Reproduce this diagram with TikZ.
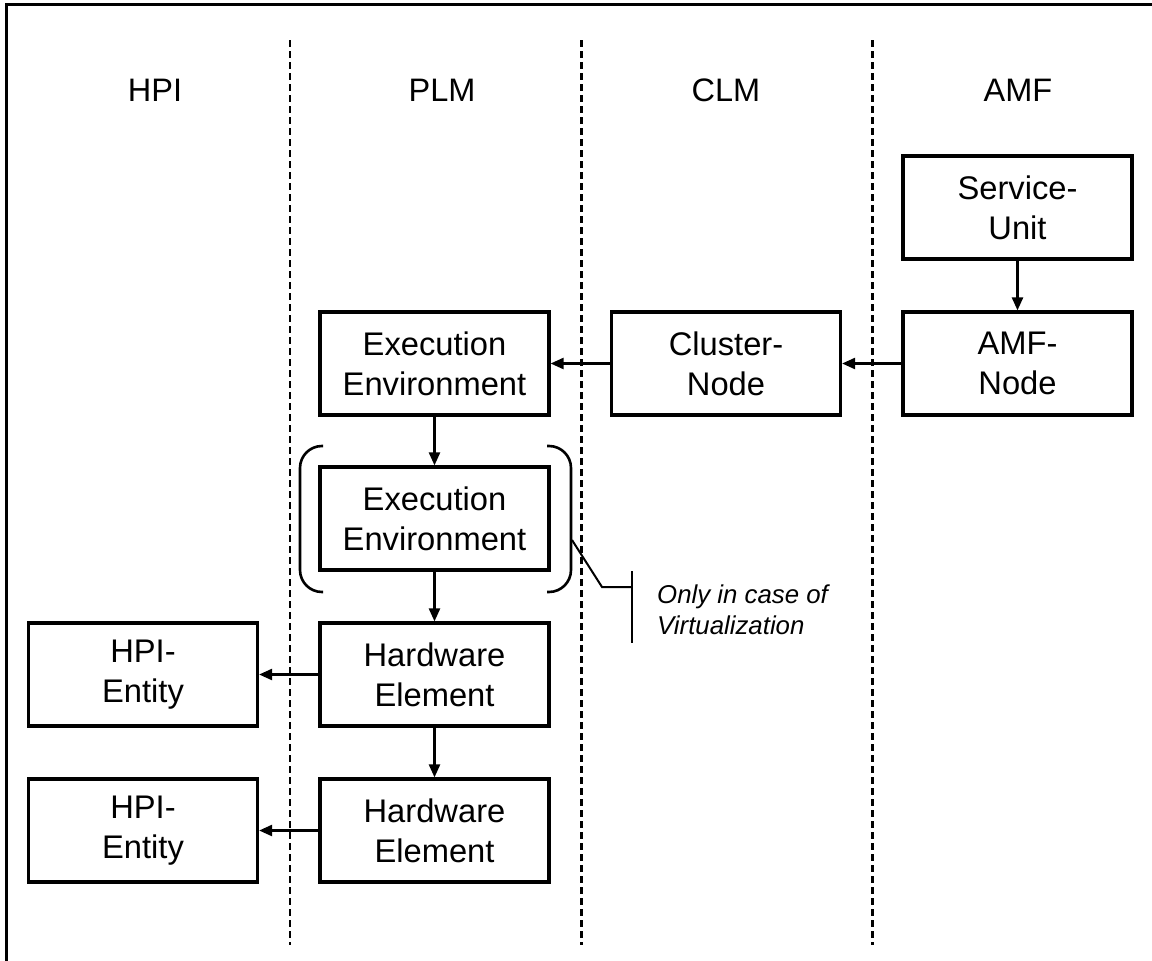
\documentclass[tikz,border=0pt]{standalone}
\usepackage{fontspec}
\setmainfont{Liberation Sans}
\usetikzlibrary{arrows.meta}
\tikzset{
  box/.style={draw, line width=3.2pt, minimum width=229pt, minimum height=103pt, inner sep=0pt, align=center, font=\fontsize{32.7}{40}\selectfont},
  head/.style={font=\fontsize{32.5}{40}\selectfont},
  lane/.style={line width=3pt, dash pattern=on 7pt off 4pt},
  conn/.style={line width=2.4pt, -{Triangle[length=13pt,width=11pt]}},
  brk/.style={line width=2.6pt, rounded corners=22pt},
  call/.style={line width=2pt},
  note/.style={font=\fontsize{25.8}{31}\selectfont\itshape, align=left, anchor=west, inner sep=0pt}
}
\begin{document}
\begin{tikzpicture}[x=1pt,y=-1pt]
\useasboundingbox (0,0) rectangle (1152,961);
% frame
\draw[line width=3.4pt] (6.5,961) -- (6.5,4.5) -- (1152,4.5);
% lanes
\draw[lane, line width=2.2pt] (290,40) -- (290,945);
\draw[lane] (581,40) -- (581,945);
\draw[lane] (872,40) -- (872,945);
% headers
\node[head] (hhpi) at (155,90) {HPI};
\node[head] (hplm) at (442,90) {PLM};
\node[head] (hclm) at (726,90) {CLM};
\node[head] (hamf) at (1018,90) {AMF};
% boxes
\node[box] (su) at (1017.5,207.5) {Service-\\Unit};
\node[box] (amf) at (1017.5,363.5) {AMF-\\Node};
\node[box] (cn) at (726,363.5) {Cluster-\\Node};
\node[box] (ee1) at (434.5,363.5) {Execution\\Environment};
\node[box] (ee2) at (434.5,518.5) {Execution\\Environment};
\node[box] (hw1) at (434.5,674.5) {Hardware\\Element};
\node[box] (hw2) at (434.5,830.5) {Hardware\\Element};
\node[box] (hpi1) at (143,674.5) {HPI-\\Entity};
\node[box] (hpi2) at (143,830.5) {HPI-\\Entity};
% connectors
\draw[conn] (su) -- (amf);
\draw[conn] (amf) -- (cn);
\draw[conn] (cn) -- (ee1);
\draw[conn] (ee1) -- (ee2);
\draw[conn] (ee2) -- (hw1);
\draw[conn] (hw1) -- (hw2);
\draw[conn] (hw1) -- (hpi1);
\draw[conn] (hw2) -- (hpi2);
% brackets
\draw[brk] (323,446) -- (300,446) -- (300,592) -- (323,592);
\draw[brk] (547,446) -- (571,446) -- (571,592) -- (547,592);
% callout
\coordinate (c0) at (572,540);
\coordinate (c1) at (602,587);
\coordinate (c2) at (632,587);
\coordinate (vt) at (632,571);
\coordinate (vb) at (632,643);
\draw[call] (c0) -- (c1) -- (c2);
\draw[call] (vt) -- (vb);
\node[note] (nt) at (657,610) {Only in case of\\Virtualization};
\end{tikzpicture}
\end{document}
